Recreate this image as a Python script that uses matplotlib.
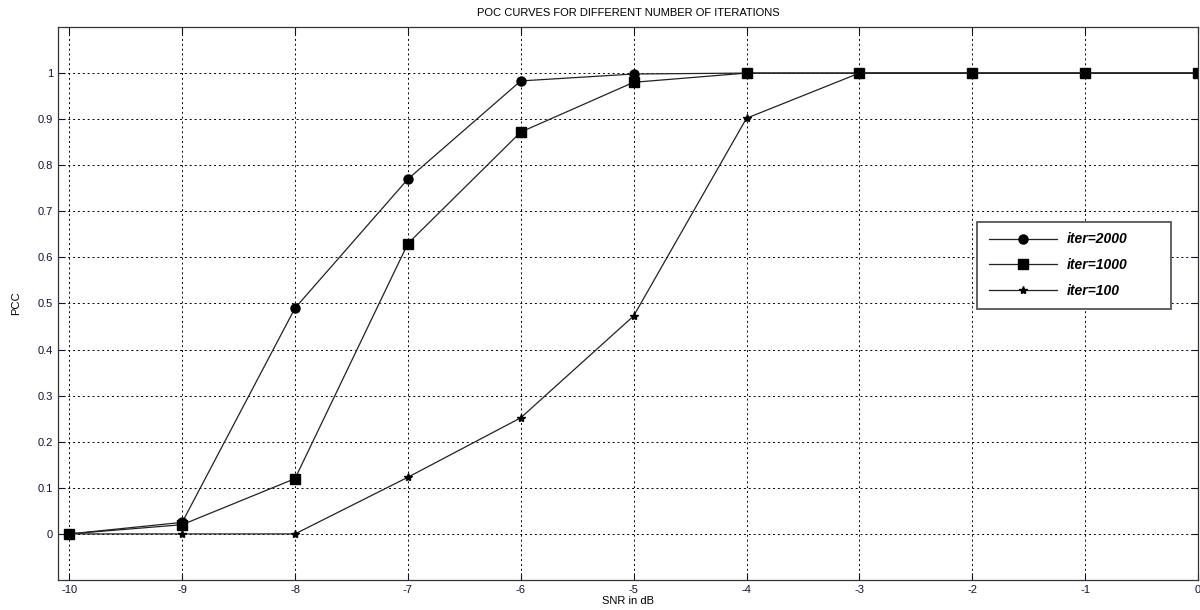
import matplotlib
matplotlib.use("Agg")
import matplotlib.pyplot as plt
from matplotlib.patches import Rectangle

snr = [-10, -9, -8, -7, -6, -5, -4, -3, -2, -1, 0]
pcc_2000 = [0, 0.025, 0.49, 0.77, 0.983, 0.998, 1, 1, 1, 1, 1]
pcc_1000 = [0, 0.02, 0.12, 0.63, 0.872, 0.98, 1, 1, 1, 1, 1]
pcc_100 = [0, 0, 0, 0.123, 0.252, 0.473, 0.902, 1, 1, 1, 1]
labels = ["iter=2000", "iter=1000", "iter=100"]
xticks = [-10, -9, -8, -7, -6, -5, -4, -3, -2, -1, 0]
yticks = [0, 0.1, 0.2, 0.3, 0.4, 0.5, 0.6, 0.7, 0.8, 0.9, 1]

plt.rcParams['font.family'] = ['Liberation Sans', 'DejaVu Sans']

W, H = 1200, 610
fig = plt.figure(figsize=(12, 6.1), dpi=100)
ax = fig.add_axes([58/W, 1-580/H, (1198-58)/W, (580-27)/H])

lc = '#222222'
ax.plot(snr, pcc_2000, color=lc, lw=0.9, marker='o', ms=6.5, mfc='black', mec='black', label=labels[0])
ax.plot(snr, pcc_1000, color=lc, lw=0.9, marker='s', ms=7, mfc='black', mec='black', label=labels[1])
ax.plot(snr, pcc_100, color=lc, lw=0.9, marker='*', ms=6, mfc='black', mec='black', label=labels[2])

ax.set_xlim(-10.1, 0)
ax.set_ylim(-0.1, 1.1)
ax.set_xticks(xticks)
ax.set_xticklabels([str(t) for t in xticks])
ax.set_yticks(yticks)
ax.set_yticklabels([("%g" % t) for t in yticks])
ax.grid(True, color='black', linestyle=(0, (2, 3)), linewidth=0.7)
ax.tick_params(direction='in', top=True, right=True, labelsize=8, colors='#111133', length=5)
for s in ax.spines.values():
    s.set_color('#333333')
    s.set_linewidth(0.9)

ax.set_title("POC CURVES FOR DIFFERENT NUMBER OF ITERATIONS", fontsize=8, pad=8)
ax.set_xlabel("SNR in dB", fontsize=8, labelpad=1)
ax.set_ylabel("PCC", fontsize=8, labelpad=12)

# legend box drawn separately (wider than its content, as in the reference)
box = Rectangle((977/W, 1-309/H), (1171-977)/W, (309-222)/H, transform=fig.transFigure,
                facecolor='white', edgecolor='#555555', linewidth=1.3, zorder=4)
ax.add_patch(box)
box.set_clip_on(False)

leg = ax.legend(loc='upper left', bbox_to_anchor=(979/W, 1-222/H), bbox_transform=fig.transFigure,
                frameon=False, borderaxespad=0,
                prop={'style': 'italic', 'weight': 'bold', 'size': 10},
                handlelength=4.9, borderpad=0.75, labelspacing=0.85, handletextpad=0.65)
leg.set_zorder(5)

fig.savefig("out.png", dpi=100)
